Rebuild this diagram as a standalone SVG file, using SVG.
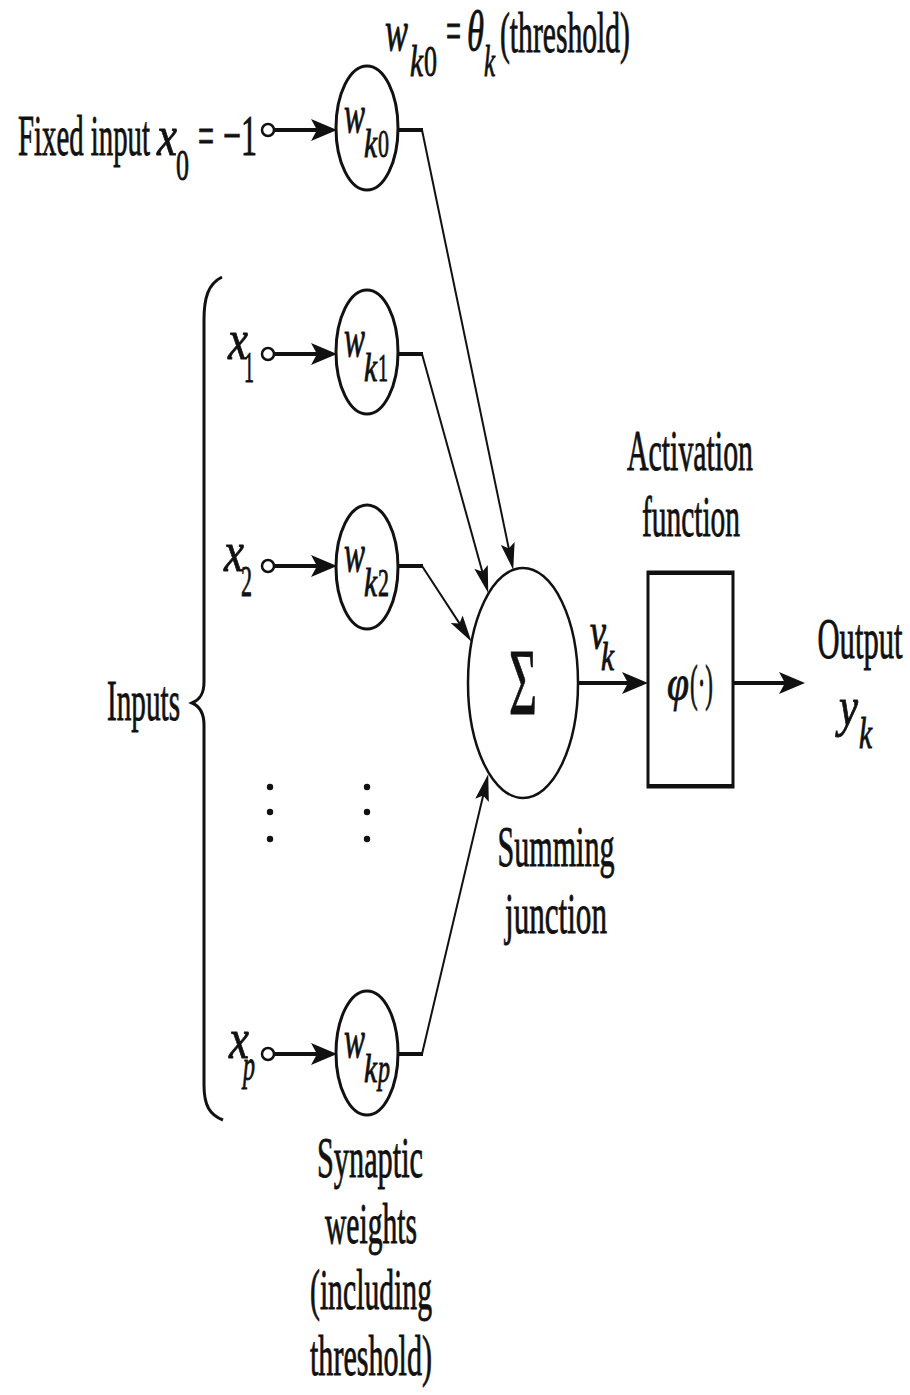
<svg xmlns="http://www.w3.org/2000/svg" width="910" height="1395" viewBox="0 0 910 1395">
<style>
.t{font-family:"Liberation Serif","Times New Roman",serif;font-size:58px;fill:#111;stroke:#111;stroke-width:0.9}
.s{font-size:44px}
.i{font-style:italic}
.m{text-anchor:middle}
.nd{fill:none;stroke:#111;stroke-width:3}
.thin{fill:none;stroke:#111;stroke-width:2}
.thick{fill:none;stroke:#111;stroke-width:4}
.oc{fill:#fff;stroke:#111;stroke-width:2.5}
</style>
<defs>
<marker id="ah" markerUnits="userSpaceOnUse" markerWidth="28" markerHeight="24" refX="15" refY="12" orient="auto">
<path d="M0,1 L26,12 L0,23 L6,12 Z" fill="#111"/>
</marker>
<marker id="ad" markerUnits="userSpaceOnUse" markerWidth="28" markerHeight="14" refX="16" refY="7" orient="auto">
<path d="M0,0 L27,7 L0,14 L5,7 Z" fill="#111"/>
</marker>
</defs>
<rect width="910" height="1395" fill="#fff"/>

<g id="connectors">
<line class="thick" x1="274" y1="130" x2="326" y2="130" marker-end="url(#ah)"/>
<line class="thick" x1="274" y1="354" x2="326" y2="354" marker-end="url(#ah)"/>
<line class="thick" x1="274" y1="566" x2="326" y2="566" marker-end="url(#ah)"/>
<line class="thick" x1="274" y1="1054" x2="326" y2="1054" marker-end="url(#ah)"/>
<line class="thick" x1="398" y1="130" x2="423" y2="130"/>
<line class="thick" x1="398" y1="354" x2="423" y2="354"/>
<line class="thick" x1="398" y1="566" x2="423" y2="566"/>
<line class="thick" x1="398" y1="1054" x2="423" y2="1054"/>
<line class="thin" x1="422" y1="130" x2="511" y2="559.2" marker-end="url(#ad)"/>
<line class="thin" x1="422" y1="354" x2="485.3" y2="582.4" marker-end="url(#ad)"/>
<line class="thin" x1="422" y1="566" x2="465.5" y2="632.6" marker-end="url(#ad)"/>
<line class="thin" x1="422" y1="1054" x2="485.7" y2="784.7" marker-end="url(#ad)"/>
<line class="thick" x1="578" y1="683" x2="637" y2="683" marker-end="url(#ah)"/>
<line class="thick" x1="733" y1="683" x2="794" y2="683" marker-end="url(#ah)"/>
</g>

<g id="fixed-input">
<circle class="oc" cx="268" cy="130" r="6"/>
<g class="t" transform="scale(0.5 1)">
<text x="36" y="155" textLength="264" lengthAdjust="spacingAndGlyphs">Fixed input</text>
<text class="i" x="314" y="155" textLength="40" lengthAdjust="spacingAndGlyphs">x</text>
<text class="s" x="352" y="180" textLength="26" lengthAdjust="spacingAndGlyphs">0</text>
<text x="396" y="155" textLength="32" lengthAdjust="spacingAndGlyphs">=</text>
<text x="446" y="155" textLength="68" lengthAdjust="spacingAndGlyphs">−1</text>
</g>
</g>

<g id="threshold-label" class="t" transform="scale(0.5 1)">
<text class="i" x="770" y="50" textLength="46" lengthAdjust="spacingAndGlyphs">w</text>
<text class="s i" x="820" y="76" textLength="26" lengthAdjust="spacingAndGlyphs">k</text>
<text class="s" x="848" y="76" textLength="26" lengthAdjust="spacingAndGlyphs">0</text>
<text x="892" y="50" textLength="30" lengthAdjust="spacingAndGlyphs">=</text>
<text class="i" x="934" y="50" textLength="34" lengthAdjust="spacingAndGlyphs">θ</text>
<text class="s i" x="968" y="76" textLength="22" lengthAdjust="spacingAndGlyphs">k</text>
<text x="1000" y="52" textLength="260" lengthAdjust="spacingAndGlyphs">(threshold)</text>
</g>

<g id="x1">
<circle class="oc" cx="268" cy="354" r="6"/>
<g class="t" transform="scale(0.5 1)">
<text class="i" x="456" y="359" textLength="40" lengthAdjust="spacingAndGlyphs">x</text>
<text class="s" x="488" y="382" textLength="20" lengthAdjust="spacingAndGlyphs">1</text>
</g>
</g>
<g id="x2">
<circle class="oc" cx="268" cy="566" r="6"/>
<g class="t" transform="scale(0.5 1)">
<text class="i" x="448" y="571" textLength="40" lengthAdjust="spacingAndGlyphs">x</text>
<text class="s" x="482" y="596" textLength="22" lengthAdjust="spacingAndGlyphs">2</text>
</g>
</g>
<g id="xp">
<circle class="oc" cx="268" cy="1054" r="6"/>
<g class="t" transform="scale(0.5 1)">
<text class="i" x="458" y="1058" textLength="40" lengthAdjust="spacingAndGlyphs">x</text>
<text class="s i" x="486" y="1080" textLength="24" lengthAdjust="spacingAndGlyphs">p</text>
</g>
</g>

<g id="wk0">
<ellipse class="nd" cx="367" cy="128" rx="31" ry="62"/>
<g class="t" transform="scale(0.5 1)">
<text class="i" x="688" y="132" font-size="52" textLength="42" lengthAdjust="spacingAndGlyphs">w</text>
<text class="i" x="728" y="157" font-size="40" textLength="26" lengthAdjust="spacingAndGlyphs">k</text>
<text x="756" y="157" font-size="40" textLength="22" lengthAdjust="spacingAndGlyphs">0</text>
</g>
</g>
<g id="wk1">
<ellipse class="nd" cx="367" cy="352" rx="31" ry="62"/>
<g class="t" transform="scale(0.5 1)">
<text class="i" x="688" y="356" font-size="52" textLength="42" lengthAdjust="spacingAndGlyphs">w</text>
<text class="i" x="728" y="381" font-size="40" textLength="26" lengthAdjust="spacingAndGlyphs">k</text>
<text x="756" y="381" font-size="40" textLength="20" lengthAdjust="spacingAndGlyphs">1</text>
</g>
</g>
<g id="wk2">
<ellipse class="nd" cx="367" cy="567" rx="31" ry="62"/>
<g class="t" transform="scale(0.5 1)">
<text class="i" x="688" y="571" font-size="52" textLength="42" lengthAdjust="spacingAndGlyphs">w</text>
<text class="i" x="728" y="596" font-size="40" textLength="26" lengthAdjust="spacingAndGlyphs">k</text>
<text x="756" y="596" font-size="40" textLength="22" lengthAdjust="spacingAndGlyphs">2</text>
</g>
</g>
<g id="wkp">
<ellipse class="nd" cx="367" cy="1053" rx="31" ry="62"/>
<g class="t" transform="scale(0.5 1)">
<text class="i" x="688" y="1057" font-size="52" textLength="42" lengthAdjust="spacingAndGlyphs">w</text>
<text class="i" x="728" y="1082" font-size="40" textLength="26" lengthAdjust="spacingAndGlyphs">k</text>
<text class="i" x="756" y="1082" font-size="40" textLength="24" lengthAdjust="spacingAndGlyphs">p</text>
</g>
</g>

<g id="ellipsis">
<circle cx="270" cy="787" r="3.2" fill="#111"/>
<circle cx="270" cy="812" r="3.2" fill="#111"/>
<circle cx="270" cy="839" r="3.2" fill="#111"/>
<circle cx="367" cy="787" r="3.2" fill="#111"/>
<circle cx="367" cy="812" r="3.2" fill="#111"/>
<circle cx="367" cy="839" r="3.2" fill="#111"/>
</g>

<g id="inputs-brace">
<path class="nd" d="M222,277 C208,284 204,298 204,320 L204,682 C204,695 199,700 192,703 C199,706 204,712 204,725 L204,1085 C204,1106 210,1115 223,1120"/>
<g class="t" transform="scale(0.5 1)">
<text x="214" y="720" textLength="146" lengthAdjust="spacingAndGlyphs">Inputs</text>
</g>
</g>

<g id="summing-junction">
<ellipse class="thin" style="stroke-width:2.5" cx="523" cy="683" rx="55" ry="115"/>
<g class="t" transform="scale(0.5 1)">
<text class="m" x="1046" y="715" font-size="95" textLength="56" lengthAdjust="spacingAndGlyphs">Σ</text>
<text class="m" x="1112" y="866" textLength="234" lengthAdjust="spacingAndGlyphs">Summing</text>
<text class="m" x="1112" y="933" textLength="204" lengthAdjust="spacingAndGlyphs">junction</text>
</g>
</g>

<g id="vk-label" class="t" transform="scale(0.5 1)">
<text class="i" x="1180" y="648" font-size="50" textLength="32" lengthAdjust="spacingAndGlyphs">v</text>
<text class="i" x="1202" y="670" font-size="40" textLength="26" lengthAdjust="spacingAndGlyphs">k</text>
</g>

<g id="activation">
<rect class="nd" x="648" y="572" width="85" height="215"/>
<line x1="648" y1="573" x2="733" y2="573" stroke="#111" stroke-width="4"/>
<line x1="648" y1="786" x2="733" y2="786" stroke="#111" stroke-width="4"/>
<g class="t" transform="scale(0.5 1)">
<text class="i" x="1334" y="700" font-size="50" textLength="44" lengthAdjust="spacingAndGlyphs">φ</text>
<text x="1380" y="700" font-size="50" textLength="46" lengthAdjust="spacingAndGlyphs">(·)</text>
<text class="m" x="1380" y="470" textLength="252" lengthAdjust="spacingAndGlyphs">Activation</text>
<text class="m" x="1382" y="536" textLength="196" lengthAdjust="spacingAndGlyphs">function</text>
</g>
</g>

<g id="output" class="t" transform="scale(0.5 1)">
<text class="m" x="1720" y="658" textLength="170" lengthAdjust="spacingAndGlyphs">Output</text>
<text class="i" x="1678" y="725" font-size="54" textLength="38" lengthAdjust="spacingAndGlyphs">y</text>
<text class="s i" x="1718" y="748" textLength="26" lengthAdjust="spacingAndGlyphs">k</text>
</g>

<g id="synaptic-label" class="t" transform="scale(0.5 1)">
<text class="m" x="740" y="1177" textLength="212" lengthAdjust="spacingAndGlyphs">Synaptic</text>
<text class="m" x="742" y="1243" textLength="184" lengthAdjust="spacingAndGlyphs">weights</text>
<text class="m" x="742" y="1309" textLength="244" lengthAdjust="spacingAndGlyphs">(including</text>
<text class="m" x="742" y="1375" textLength="244" lengthAdjust="spacingAndGlyphs">threshold)</text>
</g>
</svg>
